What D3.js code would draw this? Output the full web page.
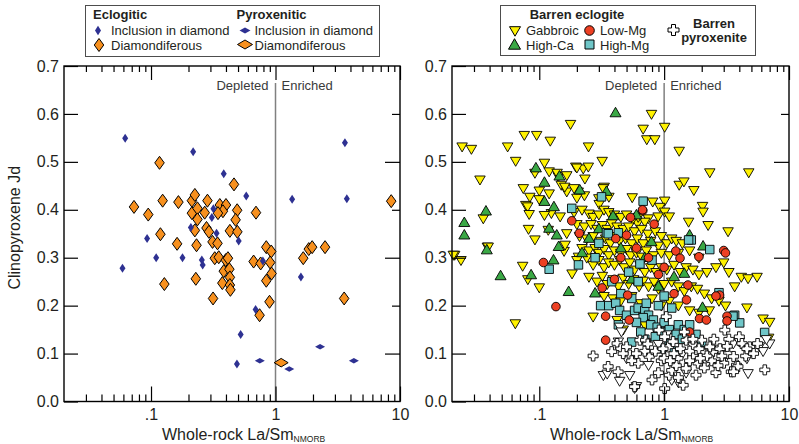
<!DOCTYPE html>
<html>
<head>
<meta charset="utf-8">
<script src="https://cdn.jsdelivr.net/npm/d3@7"></script>
<style>
  body { margin: 0; background: #fff; }
  svg text { font-family: "Liberation Sans", Arial, Helvetica, sans-serif; fill: #231f20; }
</style>
</head>
<body>
<svg id="chart" width="799" height="444"></svg>
<script>
// ---------- Left panel: diamond-bearing samples [La/Sm NMORB, Cpx Jd] ----------
const eclogiticInclusion = [
  [0.062,0.549],[0.218,0.521],[0.384,0.475],[0.582,0.429],[1.36,0.422],[3.61,0.540],[3.74,0.423],
  [0.093,0.340],[0.209,0.363],[0.308,0.384],[0.317,0.402],[0.336,0.351],[0.506,0.335],[0.059,0.278],
  [0.110,0.300],[0.179,0.300],[0.256,0.295],[0.26,0.285],[0.792,0.293],[1.60,0.260],[0.692,0.192],
  [0.525,0.140],[0.49,0.078]
];
const pyroxeniticInclusion = [[0.748,0.085],[1.29,0.068],[2.28,0.114],[4.26,0.085]];
const eclogiticDiamondiferous = [
  [0.117,0.498],[0.464,0.453],[0.073,0.406],[0.095,0.390],[0.124,0.419],[0.166,0.416],[0.213,0.419],
  [0.225,0.431],[0.213,0.393],[0.236,0.403],[0.236,0.380],[0.270,0.394],[0.284,0.419],[0.225,0.357],
  [0.279,0.362],[0.292,0.354],[0.357,0.410],[0.40,0.410],[0.378,0.397],[0.345,0.393],[0.492,0.399],
  [0.478,0.379],[0.43,0.356],[0.494,0.354],[0.697,0.394],[0.119,0.349],[0.162,0.329],[0.232,0.326],
  [0.312,0.333],[0.342,0.330],[0.325,0.299],[0.35,0.301],[0.398,0.295],[0.415,0.299],[0.384,0.272],
  [0.426,0.276],[0.43,0.259],[0.374,0.247],[0.43,0.243],[0.434,0.233],[0.229,0.256],[0.128,0.245],
  [0.315,0.215],[0.667,0.292],[0.76,0.288],[0.843,0.322],[0.924,0.313],[0.906,0.290],[0.93,0.267],
  [0.843,0.252],[0.895,0.208],[0.745,0.180],[1.67,0.299],[1.85,0.318],[1.97,0.322],[2.50,0.322],
  [3.56,0.215],[8.5,0.418]
];
const pyroxeniticDiamondiferous = [[1.11,0.081]];

// ---------- Right panel: barren samples ----------
const gabbroic = [
  [0.0241,0.532],[0.0286,0.527],[0.0335,0.463],[0.0558,0.532],[0.0647,0.502],[0.0759,0.556],[0.0953,0.556],
  [0.1225,0.544],[0.178,0.579],[0.248,0.532],[0.319,0.502],[0.679,0.569],[0.726,0.547],[0.792,0.600],
  [0.842,0.547],[1.01,0.573],[1.32,0.523],[1.32,0.452],[1.44,0.459],[1.73,0.441],[2.32,0.478],[4.76,0.478],
  [0.11,0.498],[0.0923,0.477],[0.12,0.48],[0.142,0.47],[0.166,0.472],[0.139,0.477],[0.196,0.49],[0.225,0.486],
  [0.247,0.49],[0.2,0.488],[0.15,0.452],
  [0.0745,0.445],[0.084,0.427],[0.1,0.44],[0.12,0.434],[0.1,0.422],[0.078,0.41],[0.166,0.438],[0.16,0.448],
  [0.205,0.438],[0.232,0.465],[0.19,0.445],[0.23,0.43],[0.2,0.425],[0.331,0.448],[0.361,0.427],[0.3,0.424],
  [0.302,0.412],[0.325,0.445],[0.555,0.426],[0.81,0.417],[1.01,0.419],[0.923,0.406],[1.01,0.396],[1.1,0.386],
  [2.03,0.408],[2.05,0.396],[1.57,0.375],[2.25,0.368],[3.25,0.355],[0.895,0.386],[0.745,0.382],[0.612,0.372],
  [0.125,0.393],[0.11,0.389],[0.147,0.386],[0.0807,0.407],[0.083,0.391],[0.0356,0.382],
  [0.082,0.36],[0.0923,0.338],[0.0384,0.323],[0.021,0.306],[0.0236,0.295],[0.118,0.358],[0.166,0.351],
  [0.158,0.314],[0.161,0.327],[0.206,0.302],[0.183,0.267],[0.0736,0.283],[0.081,0.255],[0.1,0.238],[0.0643,0.163],
  [0.19,0.395],[0.22,0.40],[0.25,0.392],[0.27,0.385],[0.30,0.39],[0.33,0.40],[0.36,0.395],[0.40,0.39],[0.45,0.385],
  [0.50,0.39],[0.56,0.38],[0.62,0.385],[0.70,0.375],
  [0.20,0.37],[0.23,0.365],[0.26,0.37],[0.29,0.36],[0.32,0.368],[0.35,0.36],[0.38,0.372],[0.42,0.365],[0.47,0.36],
  [0.52,0.365],[0.58,0.355],[0.66,0.36],[0.74,0.35],[0.85,0.355],[0.95,0.345],
  [0.21,0.345],[0.24,0.34],[0.27,0.345],[0.31,0.335],[0.34,0.34],[0.37,0.33],[0.41,0.345],[0.44,0.335],[0.49,0.34],
  [0.55,0.33],[0.61,0.34],[0.68,0.33],[0.78,0.335],[0.90,0.325],[1.05,0.33],[1.15,0.34],[1.25,0.335],[1.40,0.33],
  [0.22,0.32],[0.25,0.315],[0.28,0.32],[0.30,0.31],[0.33,0.318],[0.36,0.305],[0.40,0.315],[0.45,0.31],[0.50,0.318],
  [0.54,0.305],[0.60,0.31],[0.66,0.302],[0.72,0.315],[0.82,0.305],[0.95,0.31],[1.1,0.305],[1.3,0.31],[1.6,0.315],[1.9,0.30],
  [0.2,0.295],[0.24,0.3],[0.27,0.285],[0.3,0.295],[0.33,0.28],[0.36,0.29],[0.4,0.285],[0.44,0.295],[0.48,0.28],
  [0.53,0.29],[0.58,0.275],[0.64,0.285],[0.7,0.27],[0.78,0.28],[0.86,0.27],[0.95,0.28],[1.05,0.275],[1.2,0.285],
  [1.35,0.27],[1.5,0.28],[1.7,0.275],[1.9,0.265],[2.2,0.27],[2.6,0.28],[3.0,0.29],[3.3,0.27],
  [0.25,0.26],[0.29,0.25],[0.32,0.262],[0.35,0.245],[0.39,0.255],[0.43,0.24],[0.47,0.258],[0.52,0.245],[0.57,0.255],
  [0.63,0.24],[0.68,0.252],[0.75,0.24],[0.83,0.25],[0.9,0.235],[1.0,0.245],[1.15,0.25],[1.3,0.24],[1.45,0.23],
  [1.65,0.24],[1.85,0.235],[2.1,0.225],[2.4,0.215],[2.75,0.21],[3.1,0.2],[3.67,0.24],[4.15,0.26],[4.7,0.257],[5.55,0.26],
  [0.27,0.177],[0.39,0.215],[0.33,0.22],[0.45,0.21],[0.55,0.22],[0.65,0.205],[0.8,0.215],[0.95,0.2],[1.1,0.21],
  [1.3,0.2],[1.6,0.19],[1.9,0.185],[2.3,0.19],[0.47,0.15],[0.42,0.17],[0.7,0.16],[4.6,0.196],[6.2,0.173],[7.0,0.166],
  [6.87,0.133],[0.0205,0.306],[0.039,0.323]
];
const highCa = [
  [0.408,0.602],[0.094,0.487],[0.11,0.457],[0.0374,0.397],[0.0251,0.373],[0.0251,0.347],[0.11,0.417],[0.131,0.406],
  [0.12,0.361],[0.138,0.347],[0.143,0.323],[0.211,0.441],[0.345,0.438],[0.39,0.387],[0.6,0.389],[0.792,0.333],
  [1.6,0.347],[0.145,0.47],[0.038,0.316],[0.049,0.262],[0.086,0.264],[0.13,0.295],[0.172,0.229],[0.28,0.226],
  [2.05,0.324],[1.45,0.267],[2.03,0.196],[0.25,0.34],[0.3,0.36],[0.45,0.32],[0.7,0.3],[1.2,0.26],[0.55,0.255],
  [0.9,0.24],[0.22,0.31]
];
const lowMg = [
  [0.675,0.398],[0.832,0.370],[0.538,0.384],[0.182,0.377],[0.209,0.351],[0.41,0.340],[0.5,0.347],[0.108,0.29],
  [0.136,0.198],[0.671,0.4],[1.24,0.314],[0.319,0.237],[0.34,0.178],[0.525,0.17],[0.34,0.128],[0.4,0.255],
  [0.51,0.222],[3.0,0.315],[3.1,0.31],[1.9,0.302],[1.34,0.299],[1.55,0.243],[2.78,0.222],[1.51,0.212],[1.92,0.173],
  [2.18,0.170],[3.19,0.178],[3.19,0.168],[1.0,0.28],[0.75,0.3],[0.6,0.32],[0.45,0.3],[1.6,0.145],[0.9,0.265],
  [2.6,0.22],[1.2,0.225]
];
const highMg = [
  [0.679,0.418],[0.182,0.403],[0.345,0.352],[0.43,0.352],[1.65,0.337],[0.315,0.427],[0.12,0.276],[0.206,0.285],
  [0.357,0.35],[0.64,0.287],[0.8,0.295],[1.57,0.337],[2.32,0.317],[2.75,0.227],[3.67,0.18],[4.03,0.164],[6.38,0.144],
  [0.31,0.2],[0.36,0.2],[0.41,0.205],[0.44,0.19],[0.5,0.18],[0.58,0.19],[0.62,0.195],[0.7,0.19],[0.75,0.18],
  [0.82,0.17],[0.68,0.175],[0.6,0.165],[0.78,0.16],[0.88,0.155],[0.95,0.145],[0.85,0.135],[1.0,0.165],[1.1,0.15],
  [1.25,0.14],[1.3,0.16],[1.45,0.15],[1.6,0.16],[1.8,0.14],[1.1,0.12],[0.7,0.13],[0.65,0.145],[0.72,0.205],
  [0.9,0.2],[1.0,0.22],[1.15,0.195],[0.55,0.215],[0.45,0.225],[0.38,0.25],[0.52,0.27],[0.28,0.3],[0.3,0.33],
  [0.62,0.25],[1.4,0.13],[0.95,0.11],[2.0,0.12],[1.2,0.105],[3.56,0.178],[0.55,0.124],[0.43,0.16]
];
const pyroxeniteGabbroic = [
  [0.326,0.055],[0.35,0.058],[0.44,0.043],[0.53,0.055],[0.75,0.076],[0.6,0.032],[0.58,0.028],[0.44,0.156],
  [0.455,0.146],[3.58,0.121],[4.6,0.09],[4.7,0.059],[7.0,0.121],[6.6,0.13],[4.0,0.125],[1.3,0.04],[1.5,0.06],
  [2.2,0.08],[2.8,0.11],[1.05,0.14],[0.9,0.12],[1.7,0.115],[5.8,0.115],[6.2,0.105],[1.15,0.045],[3.0,0.085],
  [2.5,0.1],[1.4,0.1],[0.43,0.125],[0.5,0.09]
];
const barrenPyroxenite = [
  [0.27,0.095],[0.356,0.073],[0.428,0.062],[0.42,0.121],[0.45,0.11],[0.5,0.114],[0.53,0.097],[0.64,0.128],
  [0.76,0.094],[0.71,0.128],[0.91,0.149],[1.04,0.177],[1.01,0.135],[1.08,0.114],[1.18,0.125],[1.1,0.055],
  [1.42,0.034],[1.01,0.027],[0.58,0.031],[1.29,0.09],[1.5,0.069],[1.7,0.094],[1.87,0.08],[2.05,0.104],[2.0,0.128],
  [2.32,0.114],[2.62,0.09],[3.06,0.149],[3.25,0.1],[3.8,0.076],[3.45,0.062],[4.0,0.135],[4.84,0.114],[5.6,0.121],
  [6.4,0.066],[1.5,0.128],[1.7,0.13],[2.4,0.085],[0.7,0.105],[0.62,0.08],[0.85,0.105],[0.95,0.085],[1.2,0.1],
  [1.35,0.11],[1.6,0.105],[1.9,0.11],[2.2,0.095],[2.8,0.11],[3.0,0.08],[3.6,0.094],[3.9,0.073],[3.6,0.062],
  [4.2,0.121],[4.5,0.095],[5.2,0.1],[1.15,0.065],[1.3,0.05],[1.25,0.075],[0.9,0.06],[2.6,0.06],[2.1,0.07],
  [1.8,0.055],[0.8,0.045],[0.55,0.085],[0.47,0.1],[0.38,0.104],[1.45,0.145],[2.5,0.13],[3.3,0.13],[4.6,0.11],
  [1.0,0.09],[0.98,0.11],[1.12,0.085],[1.6,0.085],[2.9,0.095],[3.2,0.115],[1.95,0.09],[2.7,0.075],[0.74,0.12],[0.6,0.1]
];

// ---------- Axis ticks ----------
const xMajorTicks = [0.1, 1, 10];
const xMajorLabels = [".1", "1", "10"];
const xMinorTicks = [0.03,0.04,0.05,0.06,0.07,0.08,0.09,0.2,0.3,0.4,0.5,0.6,0.7,0.8,0.9,2,3,4,5,6,7,8,9];
const yTicks = [0, 0.1, 0.2, 0.3, 0.4, 0.5, 0.6, 0.7];
const yLabels = ["0.0", "0.1", "0.2", "0.3", "0.4", "0.5", "0.6", "0.7"];

// ---------- Styles ----------
const C = {
  blue: "#2e3192", orange: "#f7901e", yellow: "#fff200", green: "#3aa845",
  red: "#ee4023", cyan: "#6fc6c8", white: "#ffffff"
};

const svg = d3.select("#chart");
const plotTop = 66, plotBottom = 401.5;
const panels = [{ x0: 64, x1: 400, yTitle: true }, { x0: 452, x1: 789, yTitle: false }];

// Shape path generators (centred at 0,0)
const diamond = (w, h) => `M0,${-h/2}L${w/2},0L0,${h/2}L${-w/2},0Z`;
const triDown = (w, h) => `M${-w/2},${-h*0.4}L${w/2},${-h*0.4}L0,${h*0.6}Z`;
const triUp = (w, h) => `M0,${-h*0.6}L${w/2},${h*0.4}L${-w/2},${h*0.4}Z`;
const square = s => `M${-s/2},${-s/2}h${s}v${s}h${-s}Z`;
const circle = r => `M${r},0A${r},${r} 0 1,1 ${-r},0A${r},${r} 0 1,1 ${r},0Z`;
const cross = (s, a) => {
  const h = s / 2, t = a / 2;
  return `M${-t},${-h}H${t}V${-t}H${h}V${t}H${t}V${h}H${-t}V${t}H${-h}V${-t}H${-t}Z`;
};

function drawPanel(p, layers) {
  const x = d3.scaleLog().domain([0.02, 10]).range([p.x0, p.x1]);
  const y = d3.scaleLinear().domain([0, 0.7]).range([plotBottom, plotTop]);
  const g = svg.append("g");

  // Depleted / Enriched divider at La/Sm = 1
  g.append("line")
    .attr("x1", x(1)).attr("x2", x(1))
    .attr("y1", plotTop + 17).attr("y2", plotBottom)
    .attr("stroke", "#808080").attr("stroke-width", 1.5);
  g.append("text").attr("x", x(1) - 7).attr("y", plotTop + 24)
    .attr("text-anchor", "end").style("font-size", "13px").style("fill", "#3a3a3a").text("Depleted");
  g.append("text").attr("x", x(1) + 6).attr("y", plotTop + 24)
    .attr("text-anchor", "start").style("font-size", "13px").style("fill", "#3a3a3a").text("Enriched");

  // Data layers
  layers.forEach(L => {
    g.append("g").selectAll("path").data(L.data).join("path")
      .attr("transform", d => `translate(${x(d[0])},${y(d[1])})`)
      .attr("d", L.shape)
      .attr("fill", L.fill)
      .attr("stroke", L.stroke || "none")
      .attr("stroke-width", L.sw || 0)
      .attr("stroke-linejoin", "miter");
  });

  // Axes (inward ticks)
  const tickStyle = sel => {
    sel.select(".domain").remove();
    sel.selectAll(".tick line").attr("stroke", "#000").attr("stroke-width", 1.2);
    sel.selectAll("text").style("font-size", "16px").attr("fill", "#231f20");
  };
  const fmt = d => xMajorLabels[xMajorTicks.indexOf(d)];

  g.append("g").attr("transform", `translate(0,${plotBottom})`)
    .call(d3.axisBottom(x).tickValues(xMinorTicks).tickSize(-7).tickFormat(""))
    .call(tickStyle);
  g.append("g").attr("transform", `translate(0,${plotBottom})`)
    .call(d3.axisBottom(x).tickValues(xMajorTicks).tickSize(-15).tickPadding(7.5).tickFormat(fmt))
    .call(tickStyle);
  g.append("g").attr("transform", `translate(0,${plotTop})`)
    .call(d3.axisTop(x).tickValues(xMinorTicks).tickSize(-6).tickFormat(""))
    .call(tickStyle);
  g.append("g").attr("transform", `translate(0,${plotTop})`)
    .call(d3.axisTop(x).tickValues(xMajorTicks).tickSize(-14).tickFormat(""))
    .call(tickStyle);
  g.append("g").attr("transform", `translate(${p.x0},0)`)
    .call(d3.axisLeft(y).tickValues(yTicks).tickSize(-14).tickPadding(5)
      .tickFormat(d => yLabels[yTicks.indexOf(d)]))
    .call(tickStyle);
  g.append("g").attr("transform", `translate(${p.x1},0)`)
    .call(d3.axisRight(y).tickValues([0.1, 0.3, 0.5]).tickSize(-15).tickFormat(""))
    .call(tickStyle);
  g.append("g").attr("transform", `translate(${p.x1},0)`)
    .call(d3.axisRight(y).tickValues([0.2, 0.4, 0.6]).tickSize(-8).tickFormat(""))
    .call(tickStyle);

  // Frame
  g.append("rect").attr("x", p.x0).attr("y", plotTop)
    .attr("width", p.x1 - p.x0).attr("height", plotBottom - plotTop)
    .attr("fill", "none").attr("stroke", "#000").attr("stroke-width", 1.4);

  // Axis titles
  const t = g.append("text").attr("x", p.x0 + 98).attr("y", 439.5).style("font-size", "16px");
  t.append("tspan").text("Whole-rock La/Sm");
  t.append("tspan").attr("dy", 2.5).style("font-size", "8.5px").text("NMORB");
  if (p.yTitle) {
    g.append("text").attr("transform", `translate(20,${(plotTop + plotBottom) / 2 - 6}) rotate(-90)`)
      .attr("text-anchor", "middle").style("font-size", "16px").text("Clinopyroxene Jd");
  }
}

drawPanel(panels[0], [
  { data: eclogiticDiamondiferous, shape: diamond(9.5, 13), fill: C.orange, stroke: "#000", sw: 1 },
  { data: pyroxeniticDiamondiferous, shape: diamond(14, 8.5), fill: C.orange, stroke: "#000", sw: 1 },
  { data: eclogiticInclusion, shape: diamond(6, 9), fill: C.blue },
  { data: pyroxeniticInclusion, shape: diamond(10, 5.5), fill: C.blue }
]);

drawPanel(panels[1], [
  { data: gabbroic, shape: triDown(10.5, 9), fill: C.yellow, stroke: "#000", sw: 0.9 },
  { data: highCa, shape: triUp(11, 9.5), fill: C.green, stroke: "#000", sw: 0.9 },
  { data: highMg, shape: square(8.5), fill: C.cyan, stroke: "#000", sw: 0.9 },
  { data: lowMg, shape: circle(4.3), fill: C.red, stroke: "#000", sw: 0.9 },
  { data: pyroxeniteGabbroic, shape: triDown(10.5, 9), fill: C.white, stroke: "#000", sw: 0.9 },
  { data: barrenPyroxenite, shape: cross(10, 3.6), fill: C.white, stroke: "#000", sw: 0.9 }
]);

// ---------- Legends ----------
function legendBox(x, y, w, h) {
  svg.append("rect").attr("x", x).attr("y", y).attr("width", w).attr("height", h)
    .attr("fill", "#fff").attr("stroke", "#4d4d4d").attr("stroke-width", 1);
}
function sym(x, y, d, fill, sw) {
  svg.append("path").attr("transform", `translate(${x},${y})`).attr("d", d)
    .attr("fill", fill).attr("stroke", sw ? "#000" : "none").attr("stroke-width", sw || 0);
}
function label(x, y, s, bold, anchor) {
  svg.append("text").attr("x", x).attr("y", y).attr("text-anchor", anchor || "start")
    .style("font-size", "13px").style("font-weight", bold ? "bold" : "normal").text(s);
}

legendBox(85.5, 5.5, 294, 51);
label(93, 18.5, "Eclogitic", true);
label(236.5, 18.5, "Pyroxenitic", true);
sym(98, 30.5, diamond(6, 9.5), C.blue);
label(111, 35, "Inclusion in diamond");
sym(99, 45, diamond(9.5, 13), C.orange, 1);
label(111, 49.5, "Diamondiferous");
sym(245, 30.5, diamond(11, 6), C.blue);
label(254.5, 35, "Inclusion in diamond");
sym(245, 44.5, diamond(15, 9), C.orange, 1);
label(254.5, 49.5, "Diamondiferous");

legendBox(500.5, 5.5, 255, 50);
label(577, 18.5, "Barren eclogite", true, "middle");
sym(515, 30.5, triDown(11, 9.5), C.yellow, 1);
label(526, 35, "Gabbroic");
sym(589.5, 30.5, circle(4.8), C.red, 1);
label(600, 35, "Low-Mg");
sym(514.5, 45, triUp(12, 10.5), C.green, 1);
label(526, 49.5, "High-Ca");
sym(589.5, 44.5, square(9), C.cyan, 1);
label(600, 49.5, "High-Mg");
sym(673.5, 30, cross(11, 4), C.white, 1);
label(714, 27.5, "Barren", true, "middle");
label(714, 41.5, "pyroxenite", true, "middle");
</script>
</body>
</html>
